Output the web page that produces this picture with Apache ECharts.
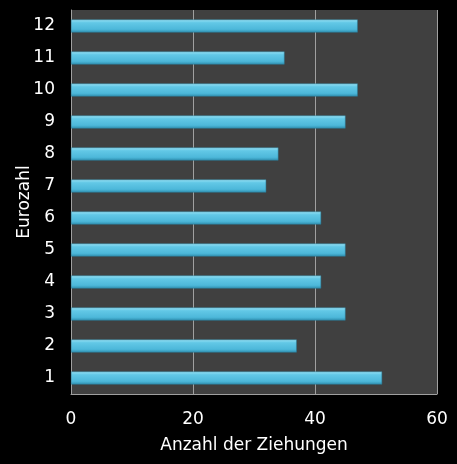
<!DOCTYPE html>
<html><head><meta charset="utf-8">
<script src="https://cdn.jsdelivr.net/npm/echarts@6/dist/echarts.min.js"></script>
<style>html,body{margin:0;padding:0;background:#000;}#c{width:457px;height:464px;}</style>
</head><body><div id="c"></div>
<script>
const categories = ['1','2','3','4','5','6','7','8','9','10','11','12'];
const values = [51, 37, 45, 41, 45, 41, 32, 34, 45, 47, 35, 47];
const xTicks = {min: 0, max: 60, interval: 20};

const chart = echarts.init(document.getElementById('c'), null, {renderer: 'canvas'});
chart.setOption({
  backgroundColor: '#000000',
  animation: false,
  grid: {left: 71, right: 20, top: 10, bottom: 70, show: true, backgroundColor: '#404040', borderWidth: 0, outerBoundsMode: 'none', containLabel: false},
  xAxis: {
    type: 'value', min: xTicks.min, max: xTicks.max, interval: xTicks.interval,
    name: 'Anzahl der Ziehungen', nameLocation: 'middle', nameGap: 43, nameMoveOverlap: false,
    nameTextStyle: {color: '#ffffff', fontSize: 17, fontFamily: 'DejaVu Sans'},
    axisLine: {show: true, lineStyle: {color: '#a0a0a0', width: 1}},
    axisTick: {show: false},
    axisLabel: {color: '#ffffff', fontSize: 17, fontFamily: 'DejaVu Sans', margin: 17},
    splitLine: {show: true, lineStyle: {color: '#a0a0a0', width: 1}}
  },
  yAxis: {
    type: 'category', data: categories,
    name: 'Eurozahl', nameLocation: 'middle', nameGap: 38, nameRotate: 90, nameMoveOverlap: false,
    nameTextStyle: {color: '#ffffff', fontSize: 17, fontFamily: 'DejaVu Sans'},
    axisLine: {show: true, lineStyle: {color: '#a0a0a0', width: 1}},
    axisTick: {show: false},
    axisLabel: {color: '#ffffff', fontSize: 17, fontFamily: 'DejaVu Sans', margin: 16},
    splitLine: {show: false}
  },
  series: [{
    type: 'bar', data: values, barWidth: 13,
    itemStyle: {
      color: new echarts.graphic.LinearGradient(0, 0, 0, 1, [
        {offset: 0, color: '#9be3f5'},
        {offset: 0.25, color: '#62c8e6'},
        {offset: 0.75, color: '#4db8da'},
        {offset: 1, color: '#2f8fb0'}
      ]),
      borderColor: '#2a7c98', borderWidth: 0.5
    }
  }]
});
</script></body></html>
